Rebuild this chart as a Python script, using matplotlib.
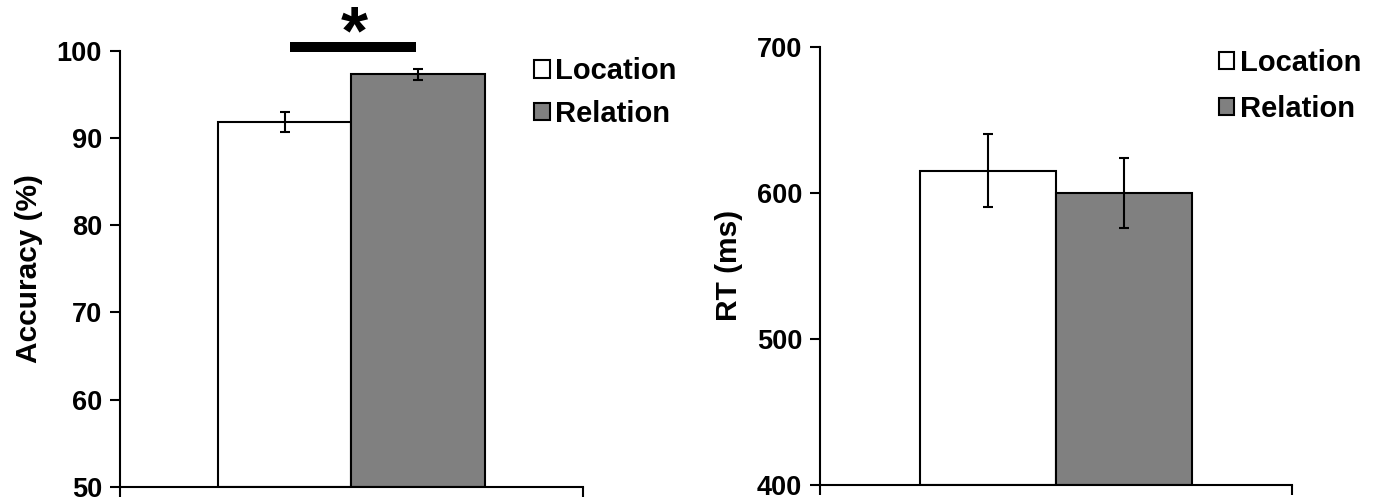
import matplotlib
matplotlib.use("Agg")
import matplotlib.pyplot as plt
from matplotlib.patches import Patch

plt.rcParams['font.family'] = ['Liberation Sans', 'DejaVu Sans']
plt.rcParams['font.weight'] = 'bold'

conditions = ['Location', 'Relation']
colors = ['white', '#808080']

acc_mean = [91.85, 97.3]
acc_err = [1.1, 0.6]

rt_mean = [615, 600]
rt_err = [25, 24]

fig = plt.figure(figsize=(13.76, 5.04), dpi=100)
ax1 = fig.add_axes([0.0872, 0.034, 0.3365, 0.865])
ax2 = fig.add_axes([0.596, 0.038, 0.343, 0.869])


def draw_panel(ax, means, errs, ylim, yticks, ylabel, leg_anchor, leg_space):
    x = [0, 1]
    ax.bar(x, [m - ylim[0] for m in means], bottom=ylim[0], width=1.0,
           color=colors, edgecolor='black', linewidth=1.5, zorder=2)
    ax.errorbar(x, means, yerr=errs, fmt='none', ecolor='black',
                elinewidth=1.5, capsize=3.5, capthick=1.5, zorder=3)
    ax.set_xlim(-1.24, 2.24)
    ax.set_ylim(*ylim)
    ax.set_yticks(yticks)
    ax.set_xticks([-1.24, 2.24])
    ax.set_xticklabels([])
    ax.tick_params(axis='y', direction='out', length=7, width=1.5,
                   labelsize=19.5, pad=6)
    ax.tick_params(axis='x', direction='out', length=7, width=1.5)
    for lab in ax.get_yticklabels():
        lab.set_fontweight('bold')
    for s in ['top', 'right']:
        ax.spines[s].set_visible(False)
    for s in ['left', 'bottom']:
        ax.spines[s].set_linewidth(1.5)
    ax.set_ylabel(ylabel, fontsize=21.5, fontweight='bold', labelpad=10)
    handles = [Patch(facecolor=c, edgecolor='black', linewidth=1.5) for c in colors]
    ax.legend(handles, conditions, loc='upper left', bbox_to_anchor=leg_anchor,
              frameon=False, handlelength=0.52, handleheight=0.52,
              handletextpad=0.2, labelspacing=leg_space, borderaxespad=0,
              prop={'weight': 'bold', 'size': 21})


draw_panel(ax1, acc_mean, acc_err, (50, 100), [50, 60, 70, 80, 90, 100],
           'Accuracy (%)', (0.87, 1.012), 0.5)
draw_panel(ax2, rt_mean, rt_err, (400, 700), [400, 500, 600, 700],
           'RT (ms)', (0.82, 1.022), 0.62)

# significance marker
ax1.plot([0.04, 0.985], [100.46, 100.46], color='black', linewidth=7.2,
         solid_capstyle='butt', clip_on=False)
fig.text(354 / 1376, 1 - 53 / 504, '*', fontsize=50, fontweight='bold',
         ha='center', va='baseline')

fig.savefig('out.png', dpi=100)
